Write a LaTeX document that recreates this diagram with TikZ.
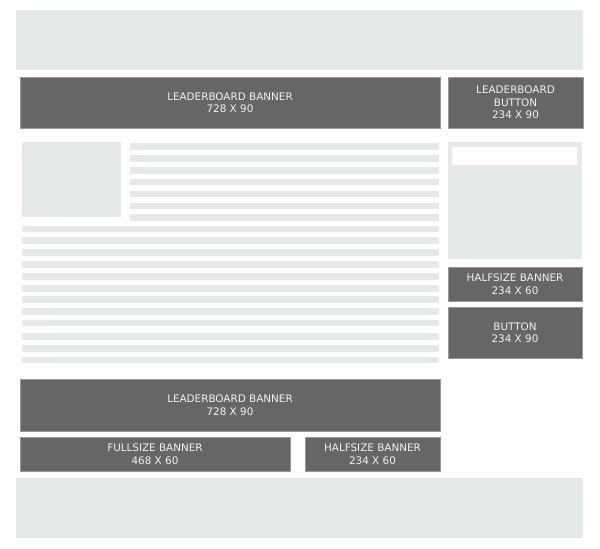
\documentclass[tikz,border=0pt]{standalone}
\usepackage{fontspec}
\setmainfont{DejaVu Sans}
\usepackage{tikz}

\definecolor{adgray}{HTML}{666666}
\definecolor{adedge}{HTML}{9A9A9A}
\definecolor{fillgray}{HTML}{E6E9E9}
\definecolor{adtext}{HTML}{F2F2F2}

\tikzset{
  ad/.style={rectangle, fill=adgray, draw=adedge, line width=0.6pt, text=adtext,
    align=center, font=\fontsize{10.4}{12.5}\selectfont, inner sep=0pt},
  filler/.style={rectangle, fill=fillgray, draw=none, inner sep=0pt},
  textline/.style={fill=fillgray, draw=none}
}

\begin{document}
\begin{tikzpicture}[x=1pt, y=-1pt]
\useasboundingbox (0,0) rectangle (600,549);
% header and footer
\node[filler, minimum width=567pt, minimum height=60pt] (header) at (299.5,40) {};
\node[filler, minimum width=567pt, minimum height=60pt] (footer) at (299.5,508) {};
% top row
\node[ad, minimum width=420pt, minimum height=51pt] (topbanner) at (230,102.5) {LEADERBOARD BANNER\\728 X 90};
\node[ad, minimum width=135pt, minimum height=51pt] (topbutton) at (515.5,102.5) {LEADERBOARD\\BUTTON\\234 X 90};
% content
\node[filler, minimum width=99pt, minimum height=75pt] (picture) at (71.5,179.5) {};
\foreach \y in {143,155,167,178.5,190.5,202.5,214} {
  \fill[textline] (130,\y) rectangle (439,\y+6.5);
}
\foreach \y in {225.5,237.3,249.3,261.3,273.3,285,296.3,308,319.5,333.3,345,356.8} {
  \fill[textline] (22,\y) rectangle (439,\y+6.5);
}
% sidebar
\node[filler, minimum width=134pt, minimum height=117pt] (sidebar) at (515,200.5) {};
\node[rectangle, fill=white, minimum width=125pt, minimum height=18pt, inner sep=0pt] (search) at (514.5,156) {};
\node[ad, minimum width=134pt, minimum height=34pt] (sidehalf) at (515,284) {HALFSIZE BANNER\\234 X 60};
\node[ad, minimum width=134pt, minimum height=51pt] (sidebutton) at (515,332.5) {BUTTON\\234 X 90};
% bottom row
\node[ad, minimum width=420pt, minimum height=52pt] (botbanner) at (230,405) {LEADERBOARD BANNER\\728 X 90};
\node[ad, minimum width=270pt, minimum height=34pt] (fullsize) at (155,454) {FULLSIZE BANNER\\468 X 60};
\node[ad, minimum width=135pt, minimum height=34pt] (bothalf) at (372.5,454) {HALFSIZE BANNER\\234 X 60};
\end{tikzpicture}
\end{document}
